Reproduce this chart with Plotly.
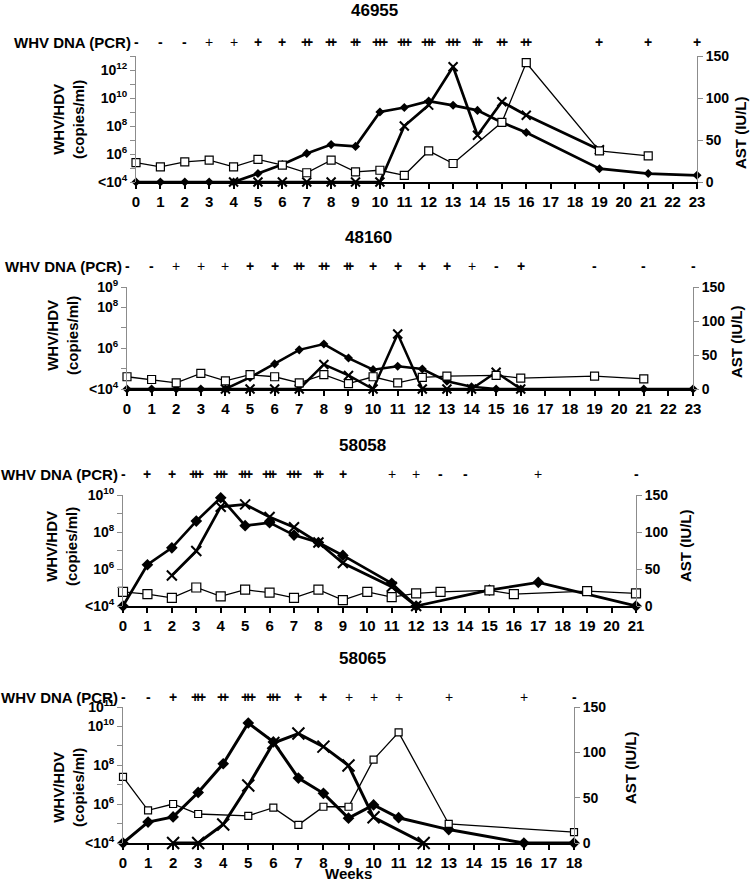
import plotly.graph_objects as go

FONT = "Liberation Sans, Arial, sans-serif"
W, H = 750, 881

# ---------------- data ----------------
# Panel 1: 46955
p1_name = "46955"
p1_whv_weeks = [0, 1, 2, 3, 4, 5, 6, 7, 8, 9, 10, 11, 12, 13, 14, 15, 16, 19, 21, 23]
p1_whv = [1e4, 1e4, 1e4, 1e4, 1e4, 4.0e4, 1.8e5, 1.1e6, 4.7e6, 3.5e6, 1.0e9, 2.1e9,
          6.0e9, 3.0e9, 1.3e9, 1.8e8, 3.4e7, 8.9e4, 4.0e4, 3.0e4]
p1_hdv_weeks = [4, 5, 6, 7, 8, 9, 10, 11, 12, 13, 14, 15, 16, 19]
p1_hdv = [1e4, 1e4, 1e4, 1e4, 1e4, 1e4, 1e4, 1.0e8, 3.1e9, 1.7e12, 2.2e7, 5.4e9, 5.9e8, 2.0e6]
p1_ast_weeks = [0, 1, 2, 3, 4, 5, 6, 7, 8, 9, 10, 11, 12, 13, 15, 16, 19, 21]
p1_ast = [23, 18, 24, 26, 18, 27, 20, 11, 26, 12, 14, 8, 37, 22, 71, 142, 37, 31]
p1_pcr_weeks = [0, 1, 2, 3, 4, 5, 6, 7, 8, 9, 10, 11, 12, 13, 14, 15, 16, 19, 21, 23]
p1_pcr = ["-", "-", "-", "+", "+", "+", "+", "++", "++", "++", "+++", "+++", "+++", "+++",
          "++", "++", "++", "+", "+", "+"]
p1_pcr_weak = [3, 4]
p1_xmax = 23
p1_ytop = 13
p1_ylabeled = [12, 10, 8, 6]

# Panel 2: 48160
p2_name = "48160"
p2_whv_weeks = [0, 1, 2, 3, 4, 5, 6, 7, 8, 9, 10, 11, 12, 13, 14, 15, 16, 21, 23]
p2_whv = [1e4, 1e4, 1e4, 1e4, 1e4, 3.7e4, 1.7e5, 8.3e5, 1.6e6, 3.3e5, 8.9e4, 1.3e5,
          9.5e4, 2.4e4, 1.3e4, 1e4, 1e4, 1e4, 1e4]
p2_hdv_weeks = [4, 5, 6, 7, 8, 9, 10, 11, 12, 13, 14, 15, 16]
p2_hdv = [1e4, 1e4, 1e4, 1e4, 1.6e5, 4.6e4, 1e4, 5.0e6, 1e4, 1e4, 1e4, 6.6e4, 1e4]
p2_ast_weeks = [0, 1, 2, 3, 4, 5, 6, 7, 8, 9, 10, 11, 12, 13, 15, 16, 19, 21]
p2_ast = [18, 14, 9, 23, 12, 21, 18, 9, 21, 8, 18, 9, 17, 19, 20, 16, 19, 15]
p2_pcr_weeks = [0, 1, 2, 3, 4, 5, 6, 7, 8, 9, 10, 11, 12, 13, 14, 15, 16, 19, 21, 23]
p2_pcr = ["-", "-", "+", "+", "+", "+", "+", "++", "++", "++", "+", "+", "+", "+",
          "+", "-", "+", "-", "-", "-"]
p2_pcr_weak = [2, 3, 4, 14]
p2_xmax = 23
p2_ytop = 9
p2_ylabeled = [9, 8, 6]

# Panel 3: 58058
p3_name = "58058"
p3_whv_weeks = [0, 1, 2, 3, 4, 5, 6, 7, 8, 9, 11, 12, 15, 17, 21]
p3_whv = [1e4, 1.7e6, 1.4e7, 3.9e8, 7.1e9, 2.2e8, 3.2e8, 6.8e7, 2.7e7, 5.4e6, 1.7e5,
          1e4, 7.2e4, 1.9e5, 1e4]
p3_hdv_weeks = [2, 3, 4, 5, 6, 7, 8, 9, 11, 12]
p3_hdv = [4.5e5, 9.3e6, 2.3e9, 3.1e9, 6.5e8, 1.8e8, 2.7e7, 2.1e6, 1.1e5, 1e4]
p3_ast_weeks = [0, 1, 2, 3, 4, 5, 6, 7, 8, 9, 10, 11, 12, 13, 15, 16, 19, 21]
p3_ast = [19, 16, 11, 25, 13, 22, 18, 11, 22, 8, 19, 12, 17, 19, 21, 16, 20, 17]
p3_pcr_weeks = [0, 1, 2, 3, 4, 5, 6, 7, 8, 9, 11, 12, 13, 14, 17, 21]
p3_pcr = ["-", "+", "+", "+++", "+++", "+++", "+++", "+++", "++", "+", "+", "+", "-", "-", "+", "-"]
p3_pcr_weak = [11, 12, 17]
p3_xmax = 21
p3_ytop = 10
p3_ylabeled = [10, 8, 6]

# Panel 4: 58065
p4_name = "58065"
p4_whv_weeks = [0, 1, 2, 3, 4, 5, 6, 7, 8, 9, 10, 11, 13, 16, 18]
p4_whv = [1e4, 1.2e5, 2.2e5, 4.0e6, 1.2e8, 1.5e10, 1.6e9, 2.2e7, 3.6e6, 1.9e5, 9.1e5,
          2.0e5, 4.9e4, 1e4, 1e4]
p4_hdv_weeks = [2, 3, 4, 5, 6, 7, 8, 9, 10, 12]
p4_hdv = [1e4, 1e4, 8.9e4, 9.1e6, 1.4e9, 4.3e9, 9.1e8, 9.8e7, 2.1e5, 1e4]
p4_ast_weeks = [0, 1, 2, 3, 5, 6, 7, 8, 9, 10, 11, 13, 18]
p4_ast = [73, 36, 43, 32, 30, 39, 20, 40, 40, 92, 122, 21, 12]
p4_pcr_weeks = [0, 1, 2, 3, 4, 5, 6, 7, 8, 9, 10, 11, 13, 16, 18]
p4_pcr = ["-", "-", "+", "+++", "++", "+++", "+++", "+", "+", "+", "+", "+", "+", "+", "-"]
p4_pcr_weak = [9, 10, 11, 13, 16]
p4_xmax = 18
p4_ytop = 11
p4_ylabeled = [11, 10, 8, 6]

panels = [
    dict(name=p1_name, whv_w=p1_whv_weeks, whv=p1_whv, hdv_w=p1_hdv_weeks, hdv=p1_hdv,
         ast_w=p1_ast_weeks, ast=p1_ast, pcr_w=p1_pcr_weeks, pcr=p1_pcr, weak=p1_pcr_weak,
         xmax=p1_xmax, ytop=p1_ytop, ylab=p1_ylabeled),
    dict(name=p2_name, whv_w=p2_whv_weeks, whv=p2_whv, hdv_w=p2_hdv_weeks, hdv=p2_hdv,
         ast_w=p2_ast_weeks, ast=p2_ast, pcr_w=p2_pcr_weeks, pcr=p2_pcr, weak=p2_pcr_weak,
         xmax=p2_xmax, ytop=p2_ytop, ylab=p2_ylabeled),
    dict(name=p3_name, whv_w=p3_whv_weeks, whv=p3_whv, hdv_w=p3_hdv_weeks, hdv=p3_hdv,
         ast_w=p3_ast_weeks, ast=p3_ast, pcr_w=p3_pcr_weeks, pcr=p3_pcr, weak=p3_pcr_weak,
         xmax=p3_xmax, ytop=p3_ytop, ylab=p3_ylabeled),
    dict(name=p4_name, whv_w=p4_whv_weeks, whv=p4_whv, hdv_w=p4_hdv_weeks, hdv=p4_hdv,
         ast_w=p4_ast_weeks, ast=p4_ast, pcr_w=p4_pcr_weeks, pcr=p4_pcr, weak=p4_pcr_weak,
         xmax=p4_xmax, ytop=p4_ytop, ylab=p4_ylabeled),
]

# ---------------- geometry (page pixels) ----------------
geoms = [
    dict(x0=136, x1=697, yt=56, yb=182, title=(374, 11), pcr_y=42, lt=(68, 120), rt=(740, 133),
         dsize=7, xsize=9, ssize=8, lw=2.7),
    dict(x0=127, x1=693, yt=287, yb=389, title=(368, 238), pcr_y=266, lt=(62, 336), rt=(737, 342),
         dsize=7, xsize=9, ssize=8, lw=2.5),
    dict(x0=123, x1=636, yt=495, yb=606, title=(362, 445), pcr_y=474, lt=(61, 546), rt=(685, 546),
         dsize=9, xsize=10, ssize=9, lw=2.7),
    dict(x0=123, x1=574, yt=707, yb=843, title=(362, 658), pcr_y=697, lt=(68, 788), rt=(630, 768),
         dsize=9, xsize=12, ssize=7, lw=3),
]


def px(x):
    return x / W


def py(y):
    return 1 - y / H


fig = go.Figure()
layout = dict(
    template="none",
    width=W, height=H, margin=dict(l=0, r=0, t=0, b=0, autoexpand=False),
    paper_bgcolor="white", plot_bgcolor="white", showlegend=False,
    font=dict(family=FONT, color="black"),
)
annotations = []
AXGRAY = "#8c8c8c"


def txt(text, x, y, size, weight="bold", xref="paper", xshift=0, angle=0, xanchor="center"):
    return dict(text=text, xref=xref, yref="paper", x=x, y=y, showarrow=False,
                xanchor=xanchor, yanchor="middle", xshift=xshift, textangle=angle,
                font=dict(size=size, family=FONT, weight=weight, color="black"))


for i, (p, g) in enumerate(zip(panels, geoms), start=1):
    xa = f"x{i}"
    yl = f"y{2 * i - 1}"
    yr = f"y{2 * i}"

    fig.add_trace(go.Scatter(
        x=p["hdv_w"], y=p["hdv"], xaxis=xa, yaxis=yl, mode="lines+markers", name="HDV",
        line=dict(color="black", width=g["lw"]),
        marker=dict(symbol="x-thin", size=g["xsize"], color="black",
                    line=dict(color="black", width=2)),
        cliponaxis=False))
    fig.add_trace(go.Scatter(
        x=p["whv_w"], y=p["whv"], xaxis=xa, yaxis=yl, mode="lines+markers", name="WHV",
        line=dict(color="black", width=g["lw"]),
        marker=dict(symbol="diamond", size=g["dsize"], color="black"),
        cliponaxis=False))
    fig.add_trace(go.Scatter(
        x=p["ast_w"], y=p["ast"], xaxis=xa, yaxis=yr, mode="lines+markers", name="AST",
        line=dict(color="black", width=1.3),
        marker=dict(symbol="square", size=g["ssize"], color="white",
                    line=dict(color="black", width=1.2)),
        cliponaxis=False))

    xdom = [px(g["x0"]), px(g["x1"])]
    ydom = [py(g["yb"]), py(g["yt"])]
    layout[f"xaxis{i}"] = dict(
        domain=xdom, anchor=yl, range=[0, p["xmax"]], tickmode="linear", tick0=0, dtick=1,
        showline=True, linecolor="black", linewidth=2, ticks="outside", ticklen=5,
        tickwidth=1.5, tickcolor="black", showgrid=False, zeroline=False, automargin=False,
        tickfont=dict(size=15, family=FONT, weight="bold", color="black"))
    tv = [10.0 ** k for k in range(4, p["ytop"] + 1)]
    tt = []
    for k in range(4, p["ytop"] + 1):
        if k == 4:
            tt.append("&lt;10<sup>4</sup>")
        elif k in p["ylab"]:
            tt.append(f"10<sup>{k}</sup>")
        else:
            tt.append("")
    layout[f"yaxis{2 * i - 1}"] = dict(
        domain=ydom, anchor=xa, type="log", range=[4, p["ytop"]], tickvals=tv, ticktext=tt,
        showline=True, linecolor=AXGRAY, linewidth=1, ticks="outside", ticklen=5,
        tickcolor=AXGRAY, showgrid=False, zeroline=False, automargin=False,
        tickfont=dict(size=14, family=FONT, weight="bold", color="black"))
    layout[f"yaxis{2 * i}"] = dict(
        overlaying=yl, anchor=xa, side="right", range=[0, 150], tickvals=[0, 50, 100, 150],
        showline=True, linecolor=AXGRAY, linewidth=1, ticks="outside", ticklen=5,
        tickcolor=AXGRAY, showgrid=False, zeroline=False, automargin=False,
        tickfont=dict(size=14, family=FONT, weight="bold", color="black"))

    annotations.append(txt(p["name"], px(g["title"][0]), py(g["title"][1]), 17))
    annotations.append(txt("WHV DNA (PCR)", px(g["x0"] - 3), py(g["pcr_y"]), 15,
                           xanchor="right"))
    for wk, s in zip(p["pcr_w"], p["pcr"]):
        weight = "normal" if wk in p["weak"] else "bold"
        if s == "-":
            annotations.append(txt("-", wk, py(g["pcr_y"]), 14, xref=xa))
        else:
            n = len(s)
            for k in range(n):
                annotations.append(txt("+", wk, py(g["pcr_y"]), 14, weight=weight, xref=xa,
                                       xshift=(k - (n - 1) / 2) * 3.6))
    annotations.append(txt("WHV/HDV<br>(copies/ml)", px(g["lt"][0]), py(g["lt"][1]), 15,
                           angle=-90))
    annotations.append(txt("AST (IU/L)", px(g["rt"][0]), py(g["rt"][1]), 15, angle=-90))

annotations.append(txt("Weeks", px(348), py(873), 15))

layout["annotations"] = annotations
fig.update_layout(**layout)
fig.write_html("out.html", config={"displayModeBar": False},
               post_script="document.body.style.margin='0px';document.body.style.overflow='hidden';")
